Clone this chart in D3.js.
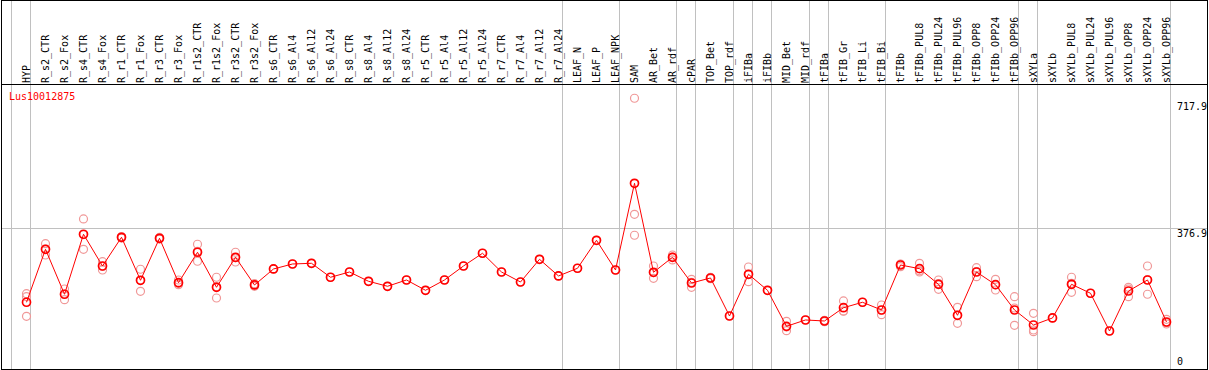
<!DOCTYPE html>
<html>
<head>
<meta charset="utf-8">
<script src="https://cdn.jsdelivr.net/npm/d3@7"></script>
<style>
  body { margin: 0; background: #fff; }
  svg { display: block; }
  text { font-family: "DejaVu Sans Mono", monospace; font-size: 10px; }
</style>
</head>
<body>
<svg width="1209" height="370"></svg>
<script>
// gene shown in the panel
const geneName = "Lus10012875";

// sample names, left to right
const categories = [
  "HYP", "R_s2_CTR", "R_s2_Fox", "R_s4_CTR", "R_s4_Fox", "R_r1_CTR", "R_r1_Fox",
  "R_r3_CTR", "R_r3_Fox", "R_r1s2_CTR", "R_r1s2_Fox", "R_r3s2_CTR", "R_r3s2_Fox",
  "R_s6_CTR", "R_s6_Al4", "R_s6_Al12", "R_s6_Al24", "R_s8_CTR", "R_s8_Al4",
  "R_s8_Al12", "R_s8_Al24", "R_r5_CTR", "R_r5_Al4", "R_r5_Al12", "R_r5_Al24",
  "R_r7_CTR", "R_r7_Al4", "R_r7_Al12", "R_r7_Al24", "LEAF_N", "LEAF_P", "LEAF_NPK",
  "SAM", "AR_Bet", "AR_rdf", "cPAR", "TOP_Bet", "TOP_rdf", "iFIBa", "iFIBb",
  "MID_Bet", "MID_rdf", "tFIBa", "tFIB_Gr", "tFIB_Li", "tFIB_Bi", "tFIBb",
  "tFIBb_PUL8", "tFIBb_PUL24", "tFIBb_PUL96", "tFIBb_OPP8", "tFIBb_OPP24",
  "tFIBb_OPP96", "sXYLa", "sXYLb", "sXYLb_PUL8", "sXYLb_PUL24", "sXYLb_PUL96",
  "sXYLb_OPP8", "sXYLb_OPP24", "sXYLb_OPP96"
];

// mean expression per sample
const means = [
  178.0, 320.4, 199.5, 360.8, 275.5, 352.7, 237.1, 350.0, 230.6, 312.4, 218.3, 298.9, 224.5,
  267.5, 280.9, 282.8, 245.2, 259.4, 234.4, 221.0, 237.9, 210.2, 237.9, 275.5, 309.7,
  259.4, 232.5, 293.5, 248.7, 269.4, 344.6, 264.8,
  497.8, 258.6, 298.9, 229.8, 243.3, 141.1, 253.2, 210.2, 113.4, 130.4,
  127.7, 163.4, 178.0, 157.3, 278.2, 268.3, 226.3, 143.0, 259.4, 225.3, 157.3,
  116.9, 135.8, 226.3, 202.2, 100.8, 208.3, 237.9, 125.0
];

// individual replicates per sample
const replicates = [
  [201.1, 193.0, 140.3], [335.5, 320.7, 305.1], [213.7, 199.7, 184.9], [401.9, 359.9, 320.4],
  [287.1, 274.7, 264.8], [354.8, 352.7, 350.5], [266.7, 237.1, 207.5], [352.2, 350.0, 347.8],
  [237.9, 229.0, 225.3], [333.9, 315.0, 288.2], [245.2, 219.9, 189.5], [312.4, 297.8, 286.3],
  [228.0, 224.5, 221.0],
  [267.5], [280.9], [282.8], [245.2], [259.4], [234.4], [221.0], [237.9], [210.2], [237.9],
  [275.5], [309.7], [259.4], [232.5], [293.5], [248.7], [269.4], [344.6], [264.8],
  [726.3, 414.5, 358.1], [275.5, 257.8, 242.5], [305.1, 299.7, 291.7], [239.8, 231.5, 218.3],
  [245.2, 243.3, 241.4], [141.1], [272.8, 253.2, 233.3], [210.2], [126.9, 111.6, 101.6],
  [130.4], [129.5, 127.7, 125.9], [181.5, 154.6, 154.2], [178.0], [170.7, 156.5, 144.6],
  [280.9, 280.1, 273.7], [282.8, 262.6, 259.4], [237.9, 228.2, 212.9], [164.5, 143.0, 121.5],
  [271.0, 260.5, 246.8], [239.8, 225.0, 211.0], [193.0, 162.6, 116.1],
  [148.4, 103.5, 98.9], [135.8], [245.2, 229.0, 204.8], [202.2], [100.8],
  [218.3, 213.7, 193.0], [275.5, 238.7, 199.5], [132.3, 123.1, 119.6]
];

// index of the last sample of each tissue group (-1 = left edge)
const groupEnds = [-1, 0, 28, 31, 34, 35, 37, 38, 39, 41, 42, 45, 52, 53, 60];

// values labelled on the right
const yTicks = [717.9, 376.9, 0];
const yGrid = [376.9];

const width = 1209, height = 370;
const plotTop = 84, plotBottom = 369;

let svg = d3.select("svg");

let x = d3.scalePoint()
  .domain(categories)
  .range([26.5, 1166.5]);

let y = d3.scaleLinear()
  .domain([0, 717.9])
  .range([368.5, 101.4]);

// group separators, full height
svg.append("g")
  .selectAll("line")
  .data(groupEnds)
  .enter().append("line")
  .attr("x1", d => (d < 0 ? x(categories[0]) - x.step() : x(categories[d])) + 4)
  .attr("x2", d => (d < 0 ? x(categories[0]) - x.step() : x(categories[d])) + 4)
  .attr("y1", 0)
  .attr("y2", plotBottom)
  .attr("stroke", "#c0c0c0")
  .attr("shape-rendering", "crispEdges");

// horizontal guide
svg.append("g")
  .selectAll("line")
  .data(yGrid)
  .enter().append("line")
  .attr("x1", 1)
  .attr("x2", width - 2)
  .attr("y1", d => Math.round(y(d)) + 0.5)
  .attr("y2", d => Math.round(y(d)) + 0.5)
  .attr("stroke", "#c0c0c0")
  .attr("shape-rendering", "crispEdges");

// frame
svg.append("rect")
  .attr("x", 1.5).attr("y", 0.5)
  .attr("width", width - 3.5).attr("height", plotBottom - 0.5)
  .attr("fill", "none").attr("stroke", "#000")
  .attr("shape-rendering", "crispEdges");
svg.append("line")
  .attr("x1", 1).attr("x2", width - 2)
  .attr("y1", plotTop + 0.5).attr("y2", plotTop + 0.5)
  .attr("stroke", "#000").attr("stroke-width", 1.5)
  .attr("shape-rendering", "crispEdges");

// sample labels, rotated
svg.append("g")
  .selectAll("text")
  .data(categories)
  .enter().append("text")
  .attr("transform", d => "translate(" + (x(d) + 3.5) + "," + (plotTop - 1) + ") rotate(-90)")
  .attr("fill", "#000")
  .text(d => d);

// value labels, left aligned in the right margin
svg.append("g")
  .selectAll("text")
  .data(yTicks)
  .enter().append("text")
  .attr("x", 1177)
  .attr("y", d => d === 0 ? plotBottom - 4 : y(d) + 9)
  .attr("fill", "#000")
  .text(d => d === 0 ? "0" : d.toFixed(1));

// gene name
svg.append("text")
  .attr("x", 9)
  .attr("y", 100)
  .attr("fill", "#ff0000")
  .text(geneName);

// replicate points
let repData = [];
replicates.forEach((reps, i) => {
  reps.forEach(v => repData.push({ cat: categories[i], v: v }));
});
svg.append("g")
  .selectAll("circle")
  .data(repData)
  .enter().append("circle")
  .attr("cx", d => x(d.cat))
  .attr("cy", d => y(d.v))
  .attr("r", 4)
  .attr("fill", "none")
  .attr("stroke", "#f09898")
  .attr("stroke-width", 1.2);

// mean line
let line = d3.line()
  .x((d, i) => x(categories[i]))
  .y(d => y(d));
svg.append("path")
  .datum(means)
  .attr("d", line)
  .attr("fill", "none")
  .attr("stroke", "#ff0000")
  .attr("stroke-width", 1);

// mean points
svg.append("g")
  .selectAll("circle")
  .data(means)
  .enter().append("circle")
  .attr("cx", (d, i) => x(categories[i]))
  .attr("cy", d => y(d))
  .attr("r", 4)
  .attr("fill", "none")
  .attr("stroke", "#ff0000")
  .attr("stroke-width", 1.7);
</script>
</body>
</html>
